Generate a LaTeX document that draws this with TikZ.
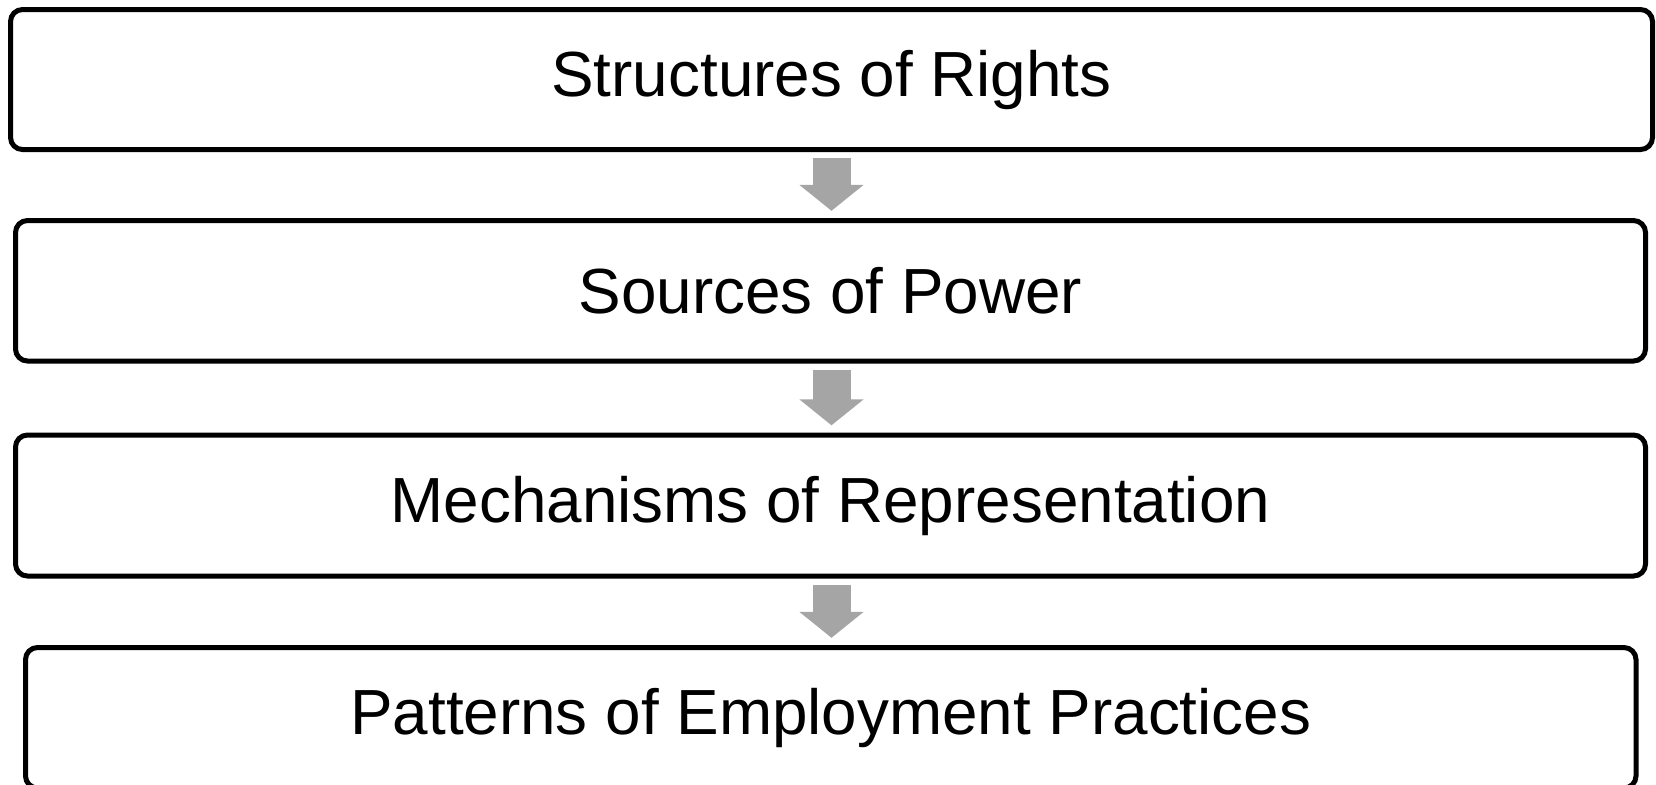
\documentclass[tikz,border=0pt]{standalone}
\usepackage{fontspec}
\setmainfont{Liberation Sans}
\usetikzlibrary{arrows.meta}
\definecolor{flowgray}{HTML}{A5A5A5}

\tikzset{
  stage/.style={draw=black, line width=2.5pt, rounded corners=6pt, fill=white,
    minimum height=70pt, inner sep=0pt, font=\fontsize{31.9}{38}\selectfont},
  flow/.style={draw=flowgray, line width=19pt,
    -{Triangle[width=31.5pt, length=13pt]}, shorten <=3.2pt, shorten >=3.6pt}
}

\begin{document}
\begin{tikzpicture}[x=0.5pt, y=-0.5pt]
  \clip (0,0) rectangle (1656,784);
  \node[stage, minimum width=821pt] (rights) at (831.5,79.5) {Structures of Rights};
  \node[stage, minimum width=815pt, minimum height=70.25pt] (power) at (830.5,290.75) {Sources of Power};
  \node[stage, minimum width=815pt, minimum height=70.5pt] (repr) at (830.5,505.5) {Mechanisms of Representation};
  \node[stage, minimum width=805.25pt, minimum height=70.25pt] (practices) at (830.75,717.75) {Patterns of Employment Practices};

  \draw[flow] (rights.south) -- (rights.south |- power.north);
  \draw[flow] (rights.south |- power.south) -- (rights.south |- repr.north);
  \draw[flow] (rights.south |- repr.south) -- (rights.south |- practices.north);
\end{tikzpicture}
\end{document}
